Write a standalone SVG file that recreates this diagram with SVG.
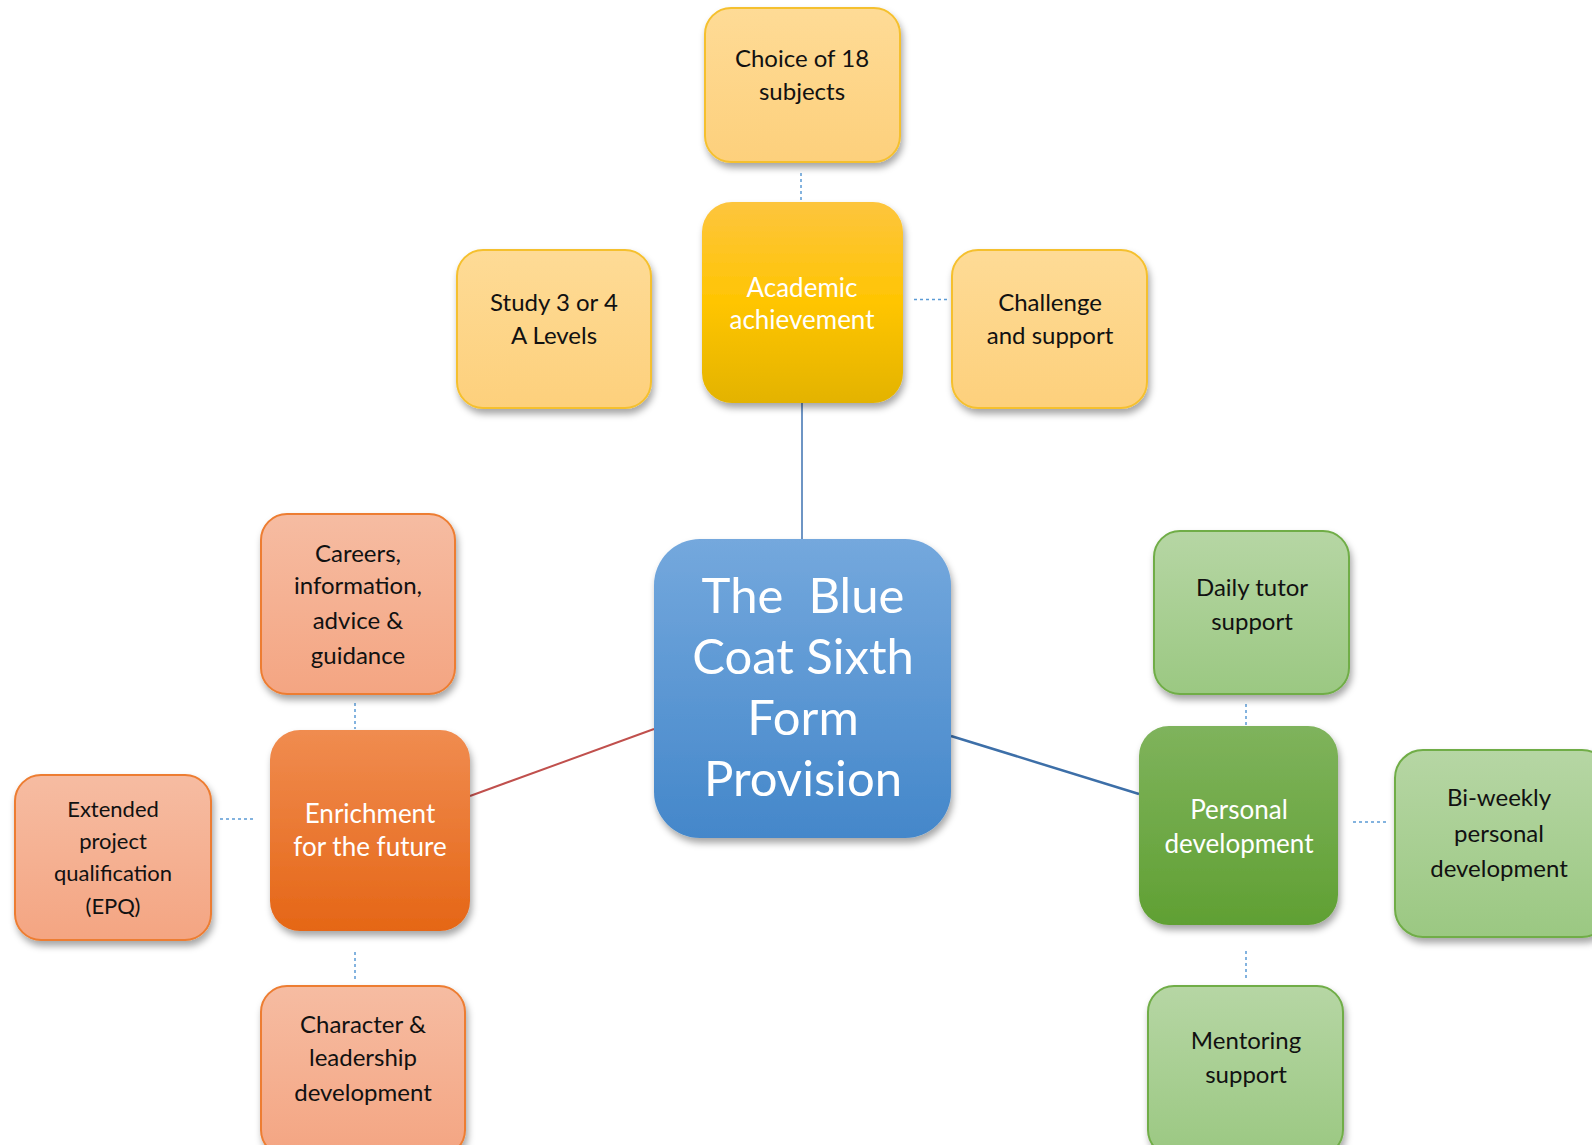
<svg xmlns="http://www.w3.org/2000/svg" width="1592" height="1145" viewBox="0 0 1592 1145">
<defs>
<linearGradient id="gY" x1="0" y1="0" x2="0" y2="1"><stop offset="0" stop-color="#fedb96"/><stop offset="1" stop-color="#fdd07c"/></linearGradient>
<linearGradient id="gYd" x1="0" y1="0" x2="0" y2="1"><stop offset="0" stop-color="#fdc53e"/><stop offset="0.5" stop-color="#ffc502"/><stop offset="1" stop-color="#e3b300"/></linearGradient>
<linearGradient id="gO" x1="0" y1="0" x2="0" y2="1"><stop offset="0" stop-color="#f6bca2"/><stop offset="1" stop-color="#f4a582"/></linearGradient>
<linearGradient id="gOd" x1="0" y1="0" x2="0" y2="1"><stop offset="0" stop-color="#f08c50"/><stop offset="1" stop-color="#e56616"/></linearGradient>
<linearGradient id="gG" x1="0" y1="0" x2="0" y2="1"><stop offset="0" stop-color="#b6d6a4"/><stop offset="1" stop-color="#9bc882"/></linearGradient>
<linearGradient id="gGd" x1="0" y1="0" x2="0" y2="1"><stop offset="0" stop-color="#7fb35c"/><stop offset="1" stop-color="#60a033"/></linearGradient>
<linearGradient id="gB" x1="0" y1="0" x2="0" y2="1"><stop offset="0" stop-color="#74a8dd"/><stop offset="1" stop-color="#4487ca"/></linearGradient>
<filter id="sh" x="-20%" y="-20%" width="140%" height="140%"><feDropShadow dx="2" dy="5" stdDeviation="3.5" flood-color="#000" flood-opacity="0.35"/></filter>
</defs>
<style>
text{font-family:Lato,"Open Sans","Liberation Sans",sans-serif;text-anchor:middle}
.t{fill:#111;font-size:24px}
.ts{fill:#111;font-size:22px}
.w{fill:#fff;font-size:26px}
.big{fill:#fff;font-size:49px}
.dot{stroke:#5b9bd5;stroke-width:1.5;stroke-dasharray:3 3;fill:none}
.ly{fill:url(#gY);stroke:#f5c02e;stroke-width:2}
.lo{fill:url(#gO);stroke:#ed7d31;stroke-width:2}
.lg{fill:url(#gG);stroke:#70ad47;stroke-width:2}
</style>
<rect width="1592" height="1145" fill="#fff"/>
<g id="connectors">
<line class="dot" x1="801" y1="173" x2="801" y2="200"/>
<line class="dot" x1="914" y1="299.5" x2="949" y2="299.5"/>
<line x1="802" y1="403" x2="802" y2="540" stroke="#3e72b0" stroke-width="1.5"/>
<line x1="470" y1="796" x2="654" y2="729" stroke="#c0504d" stroke-width="2"/>
<line class="dot" x1="355" y1="703" x2="355" y2="729"/>
<line class="dot" x1="220" y1="819" x2="256" y2="819"/>
<line class="dot" x1="355" y1="952" x2="355" y2="980"/>
<line x1="951" y1="736" x2="1139" y2="794" stroke="#3d6fa8" stroke-width="2.5"/>
<line class="dot" x1="1246" y1="704" x2="1246" y2="726"/>
<line class="dot" x1="1353" y1="822" x2="1388" y2="822"/>
<line class="dot" x1="1246" y1="951" x2="1246" y2="980"/>
</g>
<g id="choice"><rect class="ly" filter="url(#sh)" x="705" y="8" width="195" height="154" rx="26"/><text class="t" x="802" y="67">Choice of 18</text><text class="t" x="802" y="100">subjects</text></g>
<g id="academic"><rect fill="url(#gYd)" filter="url(#sh)" x="702" y="202" width="201" height="201" rx="30"/><text class="w" x="802" y="297">Academic</text><text class="w" x="802" y="329">achievement</text></g>
<g id="study"><rect class="ly" filter="url(#sh)" x="457" y="250" width="194" height="158" rx="26"/><text class="t" x="554" y="311">Study 3 or 4</text><text class="t" x="554" y="344">A Levels</text></g>
<g id="challenge"><rect class="ly" filter="url(#sh)" x="952" y="250" width="195" height="158" rx="26"/><text class="t" x="1050" y="311">Challenge</text><text class="t" x="1050" y="344">and support</text></g>
<g id="center"><rect fill="url(#gB)" filter="url(#sh)" x="654" y="539" width="297" height="299" rx="46"/>
<text class="big" x="803" y="613" xml:space="preserve">The  Blue</text><text class="big" x="803" y="674">Coat Sixth</text><text class="big" x="803" y="735">Form</text><text class="big" x="803" y="796">Provision</text></g>
<g id="enrichment"><rect fill="url(#gOd)" filter="url(#sh)" x="270" y="730" width="200" height="201" rx="30"/><text class="w" x="370" y="823">Enrichment</text><text class="w" x="370" y="856">for the future</text></g>
<g id="careers"><rect class="lo" filter="url(#sh)" x="261" y="514" width="194" height="180" rx="26"/><text class="t" x="358" y="562">Careers,</text><text class="t" x="358" y="594">information,</text><text class="t" x="358" y="629">advice &amp;</text><text class="t" x="358" y="664">guidance</text></g>
<g id="epq"><rect class="lo" filter="url(#sh)" x="15" y="775" width="196" height="165" rx="26"/><text class="ts" x="113" y="817">Extended</text><text class="ts" x="113" y="849">project</text><text class="ts" x="113" y="881">qualification</text><text class="ts" x="113" y="914">(EPQ)</text></g>
<g id="character"><rect class="lo" filter="url(#sh)" x="261" y="986" width="204" height="170" rx="26"/><text class="t" x="363" y="1033">Character &amp;</text><text class="t" x="363" y="1066">leadership</text><text class="t" x="363" y="1101">development</text></g>
<g id="personal"><rect fill="url(#gGd)" filter="url(#sh)" x="1139" y="726" width="199" height="199" rx="30"/><text class="w" x="1239" y="819">Personal</text><text class="w" x="1239" y="853">development</text></g>
<g id="daily"><rect class="lg" filter="url(#sh)" x="1154" y="531" width="195" height="163" rx="26"/><text class="t" x="1252" y="596">Daily tutor</text><text class="t" x="1252" y="630">support</text></g>
<g id="biweekly"><rect class="lg" filter="url(#sh)" x="1395" y="750" width="215" height="187" rx="28"/><text class="t" x="1499" y="806">Bi-weekly</text><text class="t" x="1499" y="842">personal</text><text class="t" x="1499" y="877">development</text></g>
<g id="mentoring"><rect class="lg" filter="url(#sh)" x="1148" y="986" width="195" height="170" rx="26"/><text class="t" x="1246" y="1049">Mentoring</text><text class="t" x="1246" y="1083">support</text></g>
</svg>
